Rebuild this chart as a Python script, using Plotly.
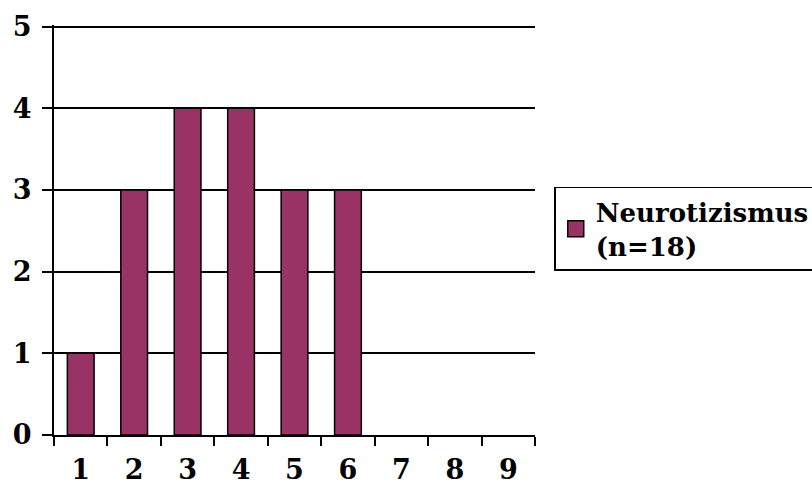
import plotly.graph_objects as go

categories = ["1", "2", "3", "4", "5", "6", "7", "8", "9"]
values = [1, 3, 4, 4, 3, 3, 0, 0, 0]
series_name = "Neurotizismus<br>(n=18)"
y_ticks = [0, 1, 2, 3, 4, 5]

FONT = "DejaVu Serif"
COLOR = "#993366"

fig = go.Figure()
fig.add_trace(go.Bar(
    x=categories, y=[v if v else None for v in values], name=series_name,
    marker=dict(color=COLOR, line=dict(color="black", width=1.5)),
    showlegend=False,
))
# legend-only entry with a larger square swatch
fig.add_trace(go.Scatter(
    x=[None], y=[None], mode="markers", name=series_name,
    marker=dict(symbol="square", size=17, color=COLOR, line=dict(color="black", width=1.5)),
    showlegend=True,
))

fig.update_layout(
    width=812, height=494,
    margin=dict(l=54, r=277, t=25, b=59, autoexpand=False),
    paper_bgcolor="white", plot_bgcolor="white",
    bargap=0.5,
    font=dict(family=FONT, size=26, color="black"),
    legend=dict(
        x=1.04, y=0.605, xanchor="left", yanchor="top",
        bordercolor="black", borderwidth=1.5,
        font=dict(family=FONT, size=26, color="black", weight="bold"),
        itemwidth=30, tracegroupgap=0,
    ),
    xaxis=dict(
        type="category", range=[-0.5, 8.5], automargin=False,
        tickson="boundaries", ticks="outside", ticklen=9, tickwidth=2, tickcolor="black",
        showline=True, linecolor="black", linewidth=2,
        showgrid=False,
        tickfont=dict(family=FONT, size=27, color="black", weight="bold"),
        ticklabelstandoff=10,
    ),
    yaxis=dict(
        range=[0, 5.02], tickvals=y_ticks, automargin=False,
        ticks="outside", ticklen=10, tickwidth=2, tickcolor="black",
        showline=True, linecolor="black", linewidth=2,
        showgrid=True, gridcolor="black", gridwidth=2,
        zeroline=False,
        tickfont=dict(family=FONT, size=27, color="black", weight="bold"),
        ticklabelstandoff=5,
    ),
)

fig.write_html("out.html", config={"displayModeBar": False},
               post_script="document.body.style.margin='0';document.body.style.padding='0';")
